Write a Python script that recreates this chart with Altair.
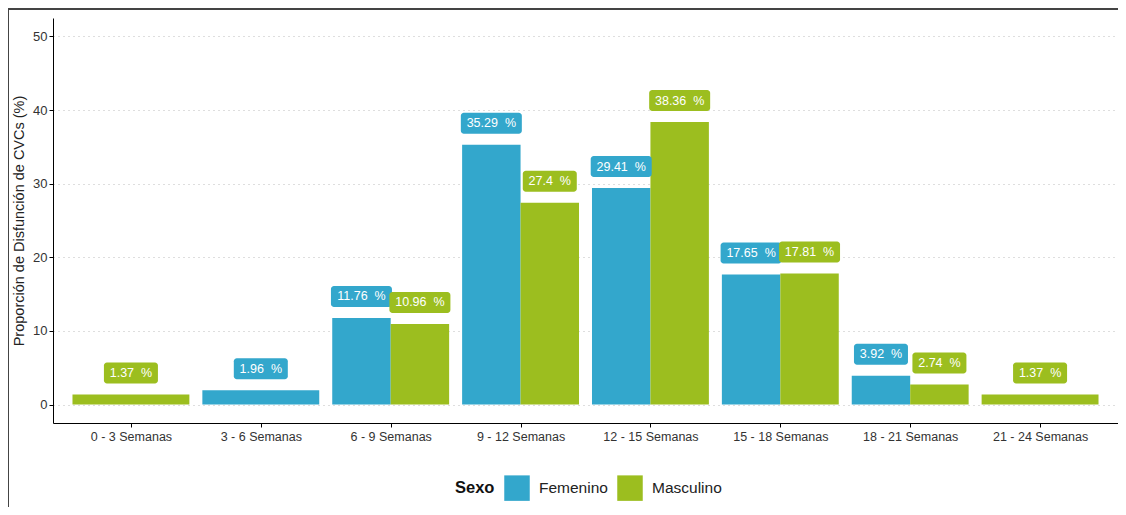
import json
import altair as alt
import pandas as pd

categorias = ["0 - 3 Semanas", "3 - 6 Semanas", "6 - 9 Semanas", "9 - 12 Semanas",
              "12 - 15 Semanas", "15 - 18 Semanas", "18 - 21 Semanas", "21 - 24 Semanas"]
femenino = [None, 1.96, 11.76, 35.29, 29.41, 17.65, 3.92, None]
masculino = [1.37, None, 10.96, 27.4, 38.36, 17.81, 2.74, 1.37]
sexos = ["Femenino", "Masculino"]
colores = ["#33A7CC", "#9CBE1F"]

rows = []
for i, cat in enumerate(categorias):
    for sexo, serie in zip(sexos, [femenino, masculino]):
        v = serie[i]
        if v is not None:
            rows.append({"categoria": cat, "idx": i, "Sexo": sexo, "valor": v})
df = pd.DataFrame(rows)

W, H = 1065, 405
NBSP = "\u00a0"
PX_PER_UNIT = W / 8.2

base = alt.Chart(df).transform_joinaggregate(
    n="count()", groupby=["categoria"]
).transform_window(
    rank="rank()", groupby=["categoria"], sort=[alt.SortField("Sexo")]
).transform_calculate(
    x0="datum.idx - 0.45 + (datum.rank - 1) * 0.9 / datum.n",
    x1="datum.idx - 0.45 + datum.rank * 0.9 / datum.n",
    xc="datum.idx - 0.45 + (datum.rank - 0.5) * 0.9 / datum.n",
    etiqueta=f"toString(datum.valor) + '{NBSP}{NBSP}%'",
).transform_calculate(
    hw=f"(length(datum.etiqueta) * 7 + 5) / 2 / {PX_PER_UNIT}",
).transform_calculate(
    bx0="datum.xc - datum.hw",
    bx1="datum.xc + datum.hw",
)

label_expr = json.dumps(categorias) + "[datum.value]"

xscale = alt.Scale(domain=[-0.6, len(categorias) - 0.4], nice=False, zero=False)
yscale = alt.Scale(domain=[-2.5, 52.5], nice=False, zero=False)
color = alt.Color(
    "Sexo:N",
    scale=alt.Scale(domain=sexos, range=colores),
    legend=alt.Legend(
        orient="none", direction="horizontal", legendX=402, legendY=457,
        title="Sexo", titleOrient="left", titleFontSize=16.5, titleFontWeight="bold",
        titleColor="#111", labelFontSize=15.5, labelColor="#222",
        symbolType="square", symbolSize=650, symbolStrokeWidth=0, symbolOpacity=1,
        columnPadding=9, labelOffset=9, titlePadding=9,
    ),
)

xaxis = alt.Axis(
    values=list(range(len(categorias))), labelExpr=label_expr, title=None,
    grid=False, domainColor="black", tickColor="black", tickSize=4,
    labelFontSize=12.5, labelColor="#333", labelPadding=3, labelFlush=False,
)
yaxis = alt.Axis(
    values=[0, 10, 20, 30, 40, 50], title="Proporción de Disfunción de CVCs (%)",
    titleFontSize=14.5, titleFontWeight="normal", titleColor="#222", titlePadding=6,
    grid=True, gridDash=[1, 4], gridColor="#BDBDBD", gridWidth=1,
    domainColor="black", tickColor="black", tickSize=4,
    labelFontSize=13, labelColor="#333", labelPadding=2,
)

bars = base.mark_bar(opacity=1).encode(
    x=alt.X("x0:Q", scale=xscale, axis=xaxis),
    x2="x1:Q",
    y=alt.Y("valor:Q", scale=yscale, axis=yaxis),
    y2=alt.datum(0),
    color=color,
)

boxes = base.mark_rect(cornerRadius=3, yOffset=-32, y2Offset=-11).encode(
    x=alt.X("bx0:Q", scale=xscale),
    x2="bx1:Q",
    y=alt.Y("valor:Q", scale=yscale),
    y2="valor:Q",
    color=alt.Color("Sexo:N", scale=alt.Scale(domain=sexos, range=colores), legend=None),
)

texts = base.mark_text(color="white", fontSize=12.5, baseline="middle", align="center",
                       dy=-21.5, font="Liberation Sans").encode(
    x=alt.X("xc:Q", scale=xscale),
    y=alt.Y("valor:Q", scale=yscale),
    text="etiqueta:N",
)

frame = alt.Chart(df).mark_rect(
    fill="transparent", stroke="#444", strokeWidth=1, clip=False
).encode(
    x=alt.value(-44.5), x2=alt.value(W + 20), y=alt.value(-9), y2=alt.value(H + 120)
)

chart = alt.layer(bars, boxes, texts, frame).properties(
    width=W, height=H,
    autosize=alt.AutoSizeParams(type="none"),
    padding={"left": 45, "top": 10, "right": 0, "bottom": 84},
).configure(
    font="Liberation Sans"
).configure_view(stroke="transparent", strokeWidth=0).configure_axis(
    labelFont="Liberation Sans", titleFont="Liberation Sans"
).configure_legend(labelFont="Liberation Sans", titleFont="Liberation Sans")

chart.save("out.html", embed_options={"renderer": "svg", "actions": False})
